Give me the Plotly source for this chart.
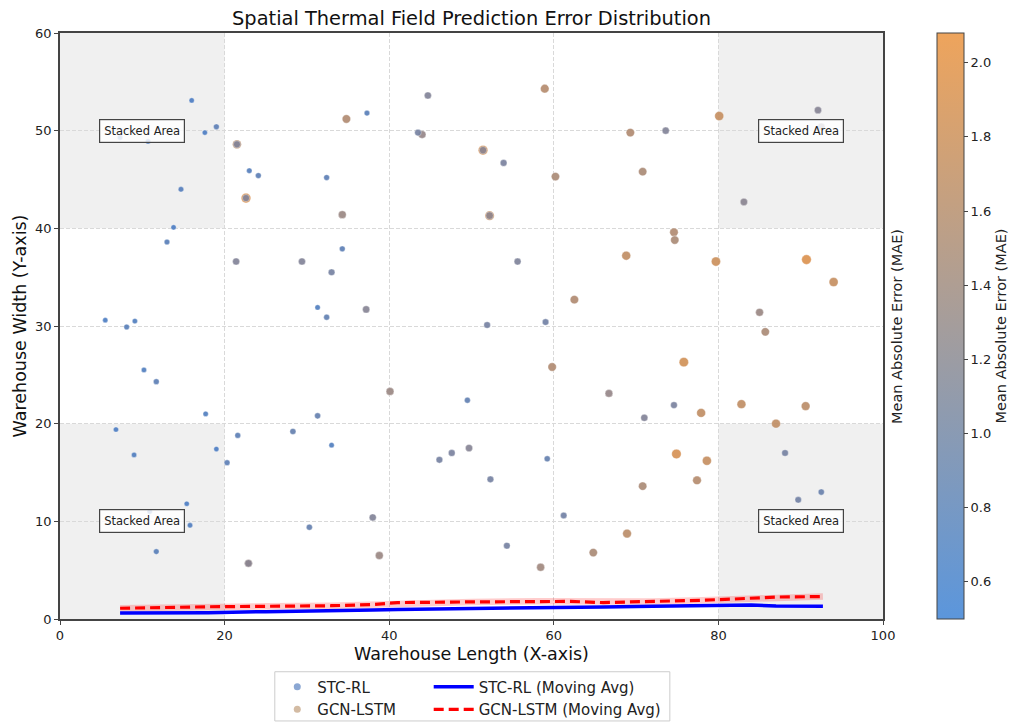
import plotly.graph_objects as go

# ---------------- data ----------------
stc_x = [16.0, 19.0, 17.6, 10.7, 7.3, 14.7, 13.8, 13.0, 23.0, 24.1, 32.4, 21.4, 29.4, 33.0,
         31.3, 32.4, 5.5, 8.1, 9.1, 37.3, 44.7, 43.5, 34.3, 53.9, 55.6, 37.2, 51.9, 59.0,
         92.1, 92.5, 73.6, 83.1, 74.6, 71.0, 88.1, 89.7, 92.5, 49.5, 33.0, 46.1, 47.6, 49.7,
         59.2, 52.3, 38.0, 61.2, 54.3, 10.2, 11.7, 17.7, 6.8, 9.0, 19.0, 21.6, 20.3, 28.3,
         31.3, 15.4, 10.9, 15.8, 11.7, 30.3, 21.5, 22.6, 51.4, 52.2, 22.9]
stc_y = [53.1, 50.4, 49.8, 48.9, 49.3, 44.0, 40.1, 38.6, 45.9, 45.4, 45.2, 36.6, 36.6, 35.5,
         31.9, 30.9, 30.6, 29.9, 30.5, 51.8, 53.6, 49.8, 37.9, 46.7, 36.6, 31.7, 30.1, 30.4,
         52.1, 50.4, 50.0, 42.7, 21.9, 20.6, 17.0, 12.2, 13.0, 22.4, 17.8, 16.3, 17.0, 17.5,
         16.4, 14.3, 10.4, 10.6, 7.5, 25.5, 24.3, 21.0, 19.4, 16.8, 17.4, 18.8, 16.0, 19.2,
         20.8, 11.8, 11.0, 9.6, 6.9, 9.4, 48.6, 43.1, 48.0, 41.3, 5.7]
stc_mae = [0.55, 0.75, 0.55, 0.55, 0.6, 0.65, 0.55, 0.7, 0.65, 0.75, 0.75, 1.2, 1.2, 1.05,
           0.6, 0.8, 0.55, 0.7, 0.6, 0.7, 1.2, 1.05, 0.75, 1.1, 1.15, 1.25, 1.05, 1.0,
           1.25, 1.3, 1.2, 1.3, 1.1, 1.2, 1.05, 1.0, 0.9, 0.8, 0.6, 1.05, 1.1, 1.25,
           0.85, 1.05, 1.2, 1.0, 1.05, 0.6, 0.75, 0.6, 0.55, 0.6, 0.55, 0.75, 0.75, 0.85,
           0.85, 0.55, 0.6, 0.6, 0.7, 0.85, 1.2, 1.2, 1.3, 1.35, 1.3]

gcn_x = [34.8, 44.0, 58.9, 60.2, 34.3, 62.5, 80.1, 69.3, 70.8, 74.6, 74.7, 68.8, 79.7, 90.7,
         94.0, 85.0, 85.7, 75.8, 66.7, 77.9, 82.8, 90.6, 87.0, 74.9, 78.6, 77.4, 70.8, 68.9,
         59.8, 40.1, 38.8, 58.4, 64.8, 21.5, 22.6, 51.4, 52.2, 22.9]
gcn_y = [51.2, 49.6, 54.3, 45.3, 41.4, 32.7, 51.5, 49.8, 45.8, 39.6, 38.8, 37.2, 36.6, 36.8,
         34.5, 31.4, 29.4, 26.3, 23.1, 21.1, 22.0, 21.8, 20.0, 16.9, 16.2, 14.2, 13.6, 8.75,
         25.8, 23.3, 6.5, 5.3, 6.8, 48.6, 43.1, 48.0, 41.3, 5.7]
gcn_mae = [1.65, 1.4, 1.7, 1.6, 1.45, 1.65, 1.85, 1.65, 1.6, 1.65, 1.6, 1.8, 1.9, 2.05,
           1.85, 1.45, 1.6, 1.95, 1.4, 1.8, 1.8, 1.75, 1.8, 2.0, 1.85, 1.7, 1.6, 1.75,
           1.65, 1.45, 1.45, 1.5, 1.6, 1.75, 2.05, 2.0, 1.9, 1.45]

ma_x = [7.3, 12.0, 18.0, 25.0, 33.0, 38.0, 41.0, 50.0, 58.0, 62.0, 66.0, 72.0, 78.0, 82.0,
        84.0, 87.0, 92.7]
stc_ma = [0.62, 0.62, 0.65, 0.75, 0.82, 0.92, 0.98, 1.1, 1.18, 1.2, 1.24, 1.3, 1.38, 1.43,
          1.43, 1.33, 1.3]
gcn_ma = [1.1, 1.18, 1.25, 1.3, 1.36, 1.48, 1.68, 1.75, 1.82, 1.8, 1.68, 1.78, 1.92, 2.05,
          2.15, 2.25, 2.3]

zone_x0 = [0, 80, 0, 80]
zone_x1 = [20, 100, 20, 100]
zone_y0 = [40, 40, 0, 0]
zone_y1 = [60, 60, 20, 20]
label_x = [10, 90, 10, 90]
label_y = [50, 50, 10, 10]

cmin, cmax = 0.5, 2.08
FONT = "DejaVu Sans"


def sizes(vals):
    return [3.5 + 3 * v for v in vals]


fig = go.Figure()

# shaded zones
for a, b, c, d in zip(zone_x0, zone_x1, zone_y0, zone_y1):
    fig.add_shape(type="rect", x0=a, x1=b, y0=c, y1=d, xref="x", yref="y",
                  fillcolor="#f0f0f0", line=dict(width=0), layer="below")

marker_line = dict(width=0.6, color="rgba(255,255,255,0.6)")

# scatter: GCN-LSTM below, STC-RL on top (marker colours via darker scale of same range)
fig.add_trace(go.Scatter(
    x=gcn_x, y=gcn_y, mode="markers", name="GCN-LSTM", showlegend=False,
    marker=dict(color=gcn_mae, coloraxis="coloraxis2", size=sizes(gcn_mae), opacity=0.92,
                line=marker_line)))
fig.add_trace(go.Scatter(
    x=stc_x, y=stc_y, mode="markers", name="STC-RL", showlegend=False,
    marker=dict(color=stc_mae, coloraxis="coloraxis2", size=sizes(stc_mae), opacity=0.92,
                line=marker_line)))
# invisible carrier for the displayed colour bar
fig.add_trace(go.Scatter(
    x=[None], y=[None], mode="markers", showlegend=False, hoverinfo="skip",
    marker=dict(color=[cmin], coloraxis="coloraxis")))

# moving averages
fig.add_trace(go.Scatter(x=ma_x, y=gcn_ma, mode="lines", showlegend=False, hoverinfo="skip",
                         line=dict(color="rgba(255,0,0,0.2)", width=6.5)))
fig.add_trace(go.Scatter(x=ma_x, y=stc_ma, mode="lines", name="STC-RL (Moving Avg)",
                         legend="legend2", line=dict(color="#0000ff", width=3.5)))
fig.add_trace(go.Scatter(x=ma_x, y=gcn_ma, mode="lines", name="GCN-LSTM (Moving Avg)",
                         legend="legend2", line=dict(color="#ff0000", width=3.2, dash="10px,5px")))

# legend-only entries for the scatter series
fig.add_trace(go.Scatter(x=[None], y=[None], mode="markers", name="STC-RL", legend="legend",
                         marker=dict(color="rgba(110,145,200,0.8)", size=7)))
fig.add_trace(go.Scatter(x=[None], y=[None], mode="markers", name="GCN-LSTM", legend="legend",
                         marker=dict(color="rgba(200,170,140,0.8)", size=7)))

for lx, ly in zip(label_x, label_y):
    fig.add_annotation(x=lx, y=ly, xref="x", yref="y", text="Stacked Area", showarrow=False,
                       font=dict(family=FONT, size=11.5, color="#222"),
                       bgcolor="rgba(255,255,255,0.82)", bordercolor="#444", borderwidth=1.2,
                       borderpad=4)

fig.add_annotation(x=1.017, y=0.5, xref="paper", yref="paper", text="Mean Absolute Error (MAE)",
                   textangle=-90, showarrow=False, xanchor="center", yanchor="middle",
                   font=dict(family=FONT, size=14.5, color="#222"))

# legend border
fig.add_shape(type="rect", xref="paper", yref="paper", x0=0.261, x1=0.741, y0=-0.174, y1=-0.090,
              line=dict(color="#cccccc", width=1), fillcolor="rgba(255,255,255,0)")

axis_common = dict(showline=True, mirror=True, linecolor="#444", linewidth=1.5,
                   ticks="outside", ticklen=4, tickcolor="#444", showgrid=True,
                   gridcolor="#d9d9d9", griddash="4px,2px", gridwidth=1, zeroline=False,
                   automargin=False,
                   tickfont=dict(family=FONT, size=13, color="#222"))

fig.update_layout(
    width=1014, height=722,
    margin=dict(l=60, r=131, t=33, b=103, autoexpand=False),
    plot_bgcolor="white", paper_bgcolor="white",
    font=dict(family=FONT, color="#222"),
    title=dict(text="Spatial Thermal Field Prediction Error Distribution",
               x=(60 + 823 / 2) / 1014, xanchor="center", y=1 - 18 / 722, yanchor="middle",
               font=dict(family=FONT, size=19.4, color="#111")),
    xaxis=dict(range=[0, 100], tickvals=[0, 20, 40, 60, 80, 100],
               title=dict(text="Warehouse Length (X-axis)", standoff=5,
                          font=dict(family=FONT, size=17.5, color="#111")), **axis_common),
    yaxis=dict(range=[0, 60], tickvals=[0, 10, 20, 30, 40, 50, 60],
               title=dict(text="Warehouse Width (Y-axis)", standoff=4,
                          font=dict(family=FONT, size=17.5, color="#111")), **axis_common),
    coloraxis=dict(cmin=cmin, cmax=cmax,
                   colorscale=[[0, "#5b96dc"], [1, "#eea45c"]],
                   colorbar=dict(x=(937 - 60) / 823, xanchor="left", xpad=0, y=0.5, ypad=0,
                                 len=1, lenmode="fraction", thickness=27,
                                 outlinecolor="#444", outlinewidth=1,
                                 tickvals=[0.6, 0.8, 1.0, 1.2, 1.4, 1.6, 1.8, 2.0],
                                 ticktext=["0.6", "0.8", "1.0", "1.2", "1.4", "1.6", "1.8", "2.0"],
                                 ticks="outside", ticklen=4, tickcolor="#444",
                                 tickfont=dict(family=FONT, size=13, color="#222"),
                                 title=dict(text="Mean Absolute Error (MAE)", side="right",
                                            font=dict(family=FONT, size=14.5, color="#222")))),
    coloraxis2=dict(cmin=cmin, cmax=cmax, showscale=False,
                    colorscale=[[0, "#4a7ec6"], [0.5, "#8a8592"], [1, "#df944e"]]),
    legend=dict(x=0.264, y=-0.088, xanchor="left", yanchor="top", orientation="v",
                bgcolor="rgba(0,0,0,0)", font=dict(family=FONT, size=15, color="#222"),
                tracegroupgap=0, itemwidth=30),
    legend2=dict(x=0.448, y=-0.088, xanchor="left", yanchor="top", orientation="v",
                 bgcolor="rgba(0,0,0,0)", font=dict(family=FONT, size=15, color="#222"),
                 tracegroupgap=0, itemwidth=40),
)

fig.write_html("out.html", config={"displayModeBar": False},
               post_script="document.body.style.margin='0px';")
